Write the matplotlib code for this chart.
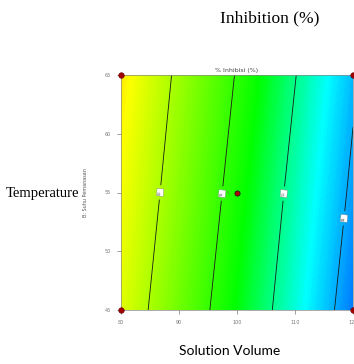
import numpy as np
import matplotlib
matplotlib.use("Agg")
from matplotlib import pyplot as plt
from matplotlib.colors import LinearSegmentedColormap

# response (% inhibition)
volume = [80, 90, 100, 110, 120]
temperature = [45, 55, 65]
inhibition = [
    [62.2, 57.5, 52.8, 48.2, 43.5],
    [63.1, 58.5, 53.8, 49.1, 44.5],
    [64.1, 59.4, 54.8, 50.1, 45.4],
]
levels = [45, 50, 55, 60]
label_pos = [(118.4, 52.8), (106.2, 55), (95.6, 55), (86.9, 55)]

design_v = [80, 80, 120, 120]
design_t = [45, 65, 45, 65]
center_v, center_t, center_n = 100, 55, 5

zmin, zmax = 40.0, 70.0
nodes = [(40, "#0000ff"), (47.4, "#00ffff"), (53, "#00ff00"),
         (63.5, "#ffff00"), (70, "#ff0000")]
cmap = LinearSegmentedColormap.from_list(
    "dx", [((z - zmin) / (zmax - zmin), c) for z, c in nodes])

fig = plt.figure(figsize=(3.54, 3.64), dpi=100)
ax = fig.add_axes([121 / 354, 1 - 310 / 364, 232 / 354, 235 / 364])

V, T = np.meshgrid(volume, temperature)
Z = np.array(inhibition)
ax.contourf(V, T, Z, levels=np.linspace(zmin, zmax, 200), cmap=cmap,
            vmin=zmin, vmax=zmax)
cs = ax.contour(V, T, Z, levels=levels, colors="#1a1a1a", linewidths=0.6)
labels = ax.clabel(cs, fmt="%d", fontsize=2.5, inline=True, manual=label_pos)
for t in labels:
    t.set_color("#555555")
    t.set_bbox(dict(boxstyle="square,pad=0.4", fc="white", ec="#888888", lw=0.3))

ax.scatter(design_v, design_t, s=16, c="#a00000", edgecolors="#600000",
           linewidths=0.4, zorder=5, clip_on=False)
ax.scatter([center_v], [center_t], s=14, c="#b00000", edgecolors="#202020",
           linewidths=0.6, zorder=5)
ax.text(center_v - 1.5, center_t, str(center_n), fontsize=2.5, color="#666666",
        ha="center", va="center")

ax.set_xlim(80, 120)
ax.set_ylim(45, 65)
ax.set_xticks([80, 90, 100, 110, 120])
ax.set_yticks([45, 50, 55, 60, 65])
ax.tick_params(labelsize=3.5, labelcolor="#777777", color="#777777",
               length=3, width=0.5, pad=4)
for s in ax.spines.values():
    s.set_color("#888888")
    s.set_linewidth(0.5)

ax.set_title("% Inhibisi (%)", fontsize=4.5, color="#444444", pad=2)
ax.set_ylabel("B: Suhu Pemanasan", fontsize=3.5, color="#555555", labelpad=12)

# overlaid captions
fig.text(270 / 354, 1 - 18 / 364, "Inhibition (%)", family="Liberation Serif",
         fontsize=12.5, ha="center", va="center")
fig.text(6 / 354, 1 - 193 / 364, "Temperature", family="Liberation Serif",
         fontsize=10.5, ha="left", va="center")
fig.text(230 / 354, 1 - 351 / 364, "Solution Volume", family="Lato",
         fontsize=10, ha="center", va="center")

fig.savefig("out.png", dpi=100)
